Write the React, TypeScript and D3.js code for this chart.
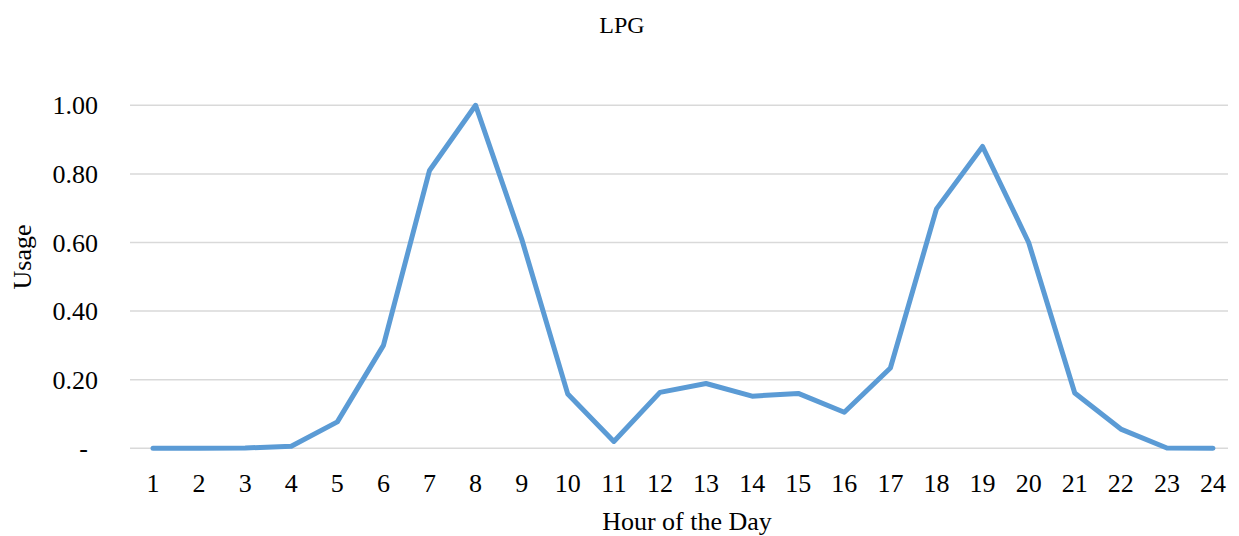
import React from "react";
import * as d3 from "d3";

const hours: number[] = [1, 2, 3, 4, 5, 6, 7, 8, 9, 10, 11, 12, 13, 14, 15, 16, 17, 18, 19, 20, 21, 22, 23, 24];
const usage: number[] = [0, 0, 0.001, 0.006, 0.077, 0.30, 0.81, 1.0, 0.61, 0.158, 0.02, 0.163, 0.189, 0.152, 0.16, 0.105, 0.234, 0.698, 0.88, 0.60, 0.161, 0.056, 0.001, 0];
const yTicks: number[] = [0, 0.2, 0.4, 0.6, 0.8, 1.0];

const W = 1239;
const H = 536;
const FONT = "'Liberation Serif', 'DejaVu Serif', serif";

export default function App() {
  const x = d3.scalePoint<number>().domain(hours).range([153, 1213]);
  const y = d3.scaleLinear().domain([0, 1]).range([448.3, 105.3]);
  const line = d3
    .line<number>()
    .x((_, i) => x(hours[i]) as number)
    .y((d) => y(d));
  const fmt = (v: number) => (v === 0 ? "-" : d3.format(".2f")(v));

  return (
    <svg
      width={W}
      height={H}
      style={{ position: "absolute", left: 0, top: 0, background: "#fff" }}
      fontFamily={FONT}
    >
      <text x={622} y={33} textAnchor="middle" fontSize={24} fill="#000">
        LPG
      </text>
      {yTicks.map((t) => (
        <g key={t}>
          <line x1={130} x2={1228} y1={y(t)} y2={y(t)} stroke="#d9d9d9" strokeWidth={1.5} />
          <text
            x={t === 0 ? 88 : 98}
            y={y(t) + 9}
            textAnchor="end"
            fontSize={26}
            fill="#000"
          >
            {fmt(t)}
          </text>
        </g>
      ))}
      {hours.map((h) => (
        <text key={h} x={x(h)} y={492} textAnchor="middle" fontSize={26} fill="#000">
          {h}
        </text>
      ))}
      <path
        d={line(usage) ?? ""}
        fill="none"
        stroke="#5B9BD5"
        strokeWidth={5}
        strokeLinejoin="round"
        strokeLinecap="round"
      />
      <text x={687} y={530} textAnchor="middle" fontSize={26} fill="#000">
        Hour of the Day
      </text>
      <text
        transform="translate(31,257) rotate(-90)"
        textAnchor="middle"
        fontSize={26}
        fill="#000"
      >
        Usage
      </text>
    </svg>
  );
}
